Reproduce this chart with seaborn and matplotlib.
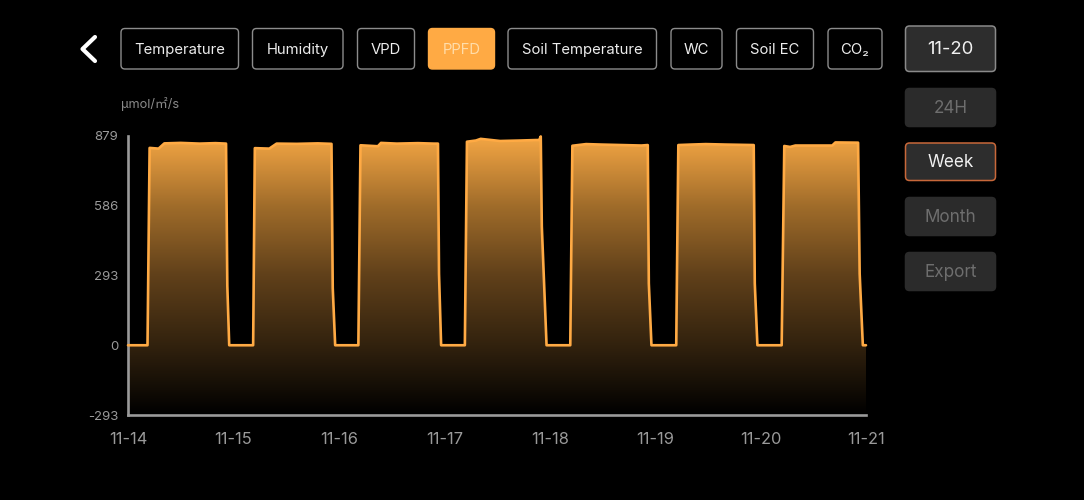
import numpy as np
import pandas as pd
import matplotlib
matplotlib.use("Agg")
import matplotlib.pyplot as plt
from matplotlib.colors import LinearSegmentedColormap
from matplotlib.patches import FancyBboxPatch
import seaborn as sns

day_offset = [0, 0.185, 0.205, 0.29, 0.345, 0.5, 0.68, 0.83, 0.93, 0.942, 0.96,
              1.187, 1.203, 1.34, 1.41, 1.6, 1.8, 1.93, 1.942, 1.965,
              2.185, 2.205, 2.37, 2.40, 2.55, 2.75, 2.9, 2.94, 2.95, 2.97,
              3.195, 3.215, 3.3, 3.345, 3.53, 3.72, 3.87, 3.9, 3.915, 3.925, 3.97,
              4.195, 4.215, 4.345, 4.49, 4.68, 4.87, 4.93, 4.94, 4.965,
              5.2, 5.22, 5.34, 5.48, 5.67, 5.935, 5.945, 5.97,
              6.2, 6.225, 6.28, 6.33, 6.68, 6.71, 6.925, 6.94, 6.97, 7.0]
ppfd = [0, 0, 829, 826, 848, 850, 847, 849, 847, 250, 0,
        0, 828, 826, 847, 846, 848, 846, 240, 0,
        0, 840, 836, 850, 847, 849, 847, 847, 300, 0,
        0, 855, 860, 867, 858, 860, 862, 862, 877, 500, 0,
        0, 838, 845, 843, 841, 839, 841, 260, 0,
        0, 841, 843, 845, 843, 841, 260, 0,
        0, 837, 833, 839, 839, 852, 851, 300, 0, 0]
x_tick_days = [0, 1, 2, 3, 4, 5, 6, 7]
x_tick_labels = ["11-14", "11-15", "11-16", "11-17", "11-18", "11-19", "11-20", "11-21"]
y_tick_values = [-293, 0, 293, 586, 879]
unit_label = "μmol/㎡/s"
tab_labels = ["Temperature", "Humidity", "VPD", "PPFD", "Soil Temperature", "WC", "Soil EC", "CO₂"]
side_labels = ["11-20", "24H", "Week", "Month", "Export"]

ORANGE = "#FFAA44"
GREY = "#9a9a9a"

sns.set_theme(style="dark", rc={"figure.facecolor": "black", "axes.facecolor": "black",
                                "savefig.facecolor": "black"})
plt.rcParams["font.family"] = ["Inter", "Noto Sans CJK SC", "DejaVu Sans"]
plt.rcParams["axes.unicode_minus"] = False

W, H = 1084, 500
fig = plt.figure(figsize=(W / 100, H / 100), dpi=100)
ax = fig.add_axes([128 / W, (H - 415) / H, 738 / W, 279 / H])

df = pd.DataFrame({"day": day_offset, "ppfd": ppfd})
poly = ax.fill_between(df["day"], df["ppfd"], -293, facecolor="none", edgecolor="none")
cmap = LinearSegmentedColormap.from_list(
    "glow", [(0, "#000000"), (0.25, "#32220E"), (0.5, "#60401A"), (0.75, "#A06C2A"), (1, "#F4A644")])
im = ax.imshow(np.linspace(1, 0, 256).reshape(-1, 1), extent=[0, 7, -293, 879],
               aspect="auto", cmap=cmap, vmin=0, vmax=1, zorder=1)
im.set_clip_path(poly.get_paths()[0], transform=ax.transData)
sns.lineplot(data=df, x="day", y="ppfd", ax=ax, color=ORANGE, linewidth=1.9,
             estimator=None, sort=False, zorder=3, clip_on=False)

ax.set_xlim(0, 7)
ax.set_ylim(-293, 879)
ax.set_xticks(x_tick_days, x_tick_labels)
ax.set_yticks(y_tick_values)
ax.tick_params(axis="x", length=0, pad=12, labelsize=11.8, colors=GREY)
ax.tick_params(axis="y", length=0, pad=7, labelsize=9.5, colors=GREY)
ax.set_xlabel("")
ax.set_ylabel("")
ax.grid(False)
for side in ("top", "right"):
    ax.spines[side].set_visible(False)
for side in ("left", "bottom"):
    ax.spines[side].set_color(GREY)
    ax.spines[side].set_linewidth(1.9)

ui = fig.add_axes([0, 0, 1, 1], facecolor="none", zorder=5)
ui.set_xlim(0, W)
ui.set_ylim(H, 0)
ui.axis("off")


def button(x0, x1, y0, y1, label, face, edge, color, size, lw=1.0):
    ui.add_patch(FancyBboxPatch((x0 + 4.5, y0 + 4.5), x1 - x0 - 9, y1 - y0 - 9,
                                boxstyle="round,pad=4,rounding_size=4",
                                facecolor=face, edgecolor=edge, linewidth=lw))
    ui.text((x0 + x1) / 2, (y0 + y1) / 2 + 1, label, color=color, fontsize=size,
            ha="center", va="center")


tab_x = [(120.5, 239), (252, 343.5), (357, 415), (428, 495),
         (507.5, 657), (670.5, 722.5), (736, 814), (827.5, 882.5)]
for (x0, x1), label in zip(tab_x, tab_labels):
    active = label == "PPFD"
    button(x0, x1, 28, 69.5, label, ORANGE if active else "black",
           ORANGE if active else "#8c8c8c", "#FFDDAA" if active else "#EDEDED", 10.7)

side_y = [(25.5, 72), (88, 127), (142.5, 181), (197, 236), (252, 291)]
side_face = ["#2D2D2D", "#2B2B2B", "#2D2D2D", "#2B2B2B", "#2B2B2B"]
side_edge = ["#8a8a8a", "#2B2B2B", "#C8683A", "#2B2B2B", "#2B2B2B"]
side_color = ["#F0F0F0", "#6E6E6E", "#F0F0F0", "#6E6E6E", "#6E6E6E"]
for (y0, y1), label, f, e, c in zip(side_y, side_labels, side_face, side_edge, side_color):
    button(905, 996, y0, y1, label, f, e, c, 12.3 if label != "11-20" else 13.3, 1.1)

ui.plot([95, 82.5, 95], [37, 49, 61], color="white", lw=3, solid_capstyle="round",
        solid_joinstyle="round")
ui.text(120.5, 104, unit_label, color="#8a8a8a", fontsize=9.2, ha="left", va="center")

fig.savefig("out.png", dpi=100)
